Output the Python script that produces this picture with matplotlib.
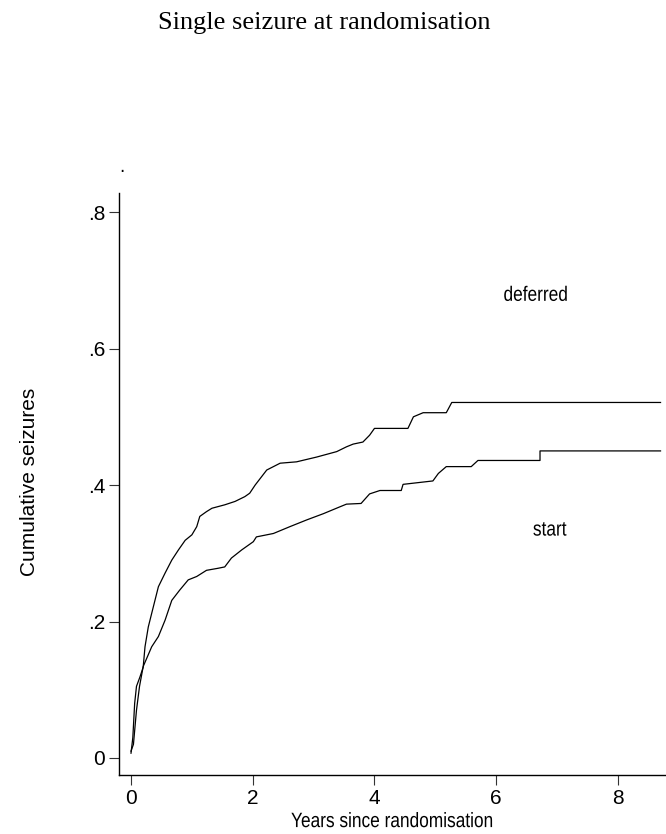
import matplotlib
matplotlib.use("Agg")
import matplotlib.pyplot as plt
from matplotlib.patheffects import AbstractPathEffect
from matplotlib.transforms import Affine2D

# Kaplan-Meier style cumulative curves
deferred_t = [0.0, 0.03, 0.06, 0.09, 0.148, 0.20, 0.23, 0.284, 0.34, 0.45, 0.56, 0.67,
              0.78, 0.89, 1.00, 1.08, 1.13, 1.24, 1.33, 1.54, 1.71, 1.87, 1.95, 2.04,
              2.23, 2.45, 2.72, 3.05, 3.38, 3.54, 3.65, 3.81, 3.92, 4.00, 4.55, 4.64,
              4.80, 5.18, 5.27, 8.70]
deferred_y = [0.007, 0.03, 0.08, 0.105, 0.119, 0.133, 0.163, 0.192, 0.212, 0.251, 0.271, 0.29,
              0.305, 0.319, 0.327, 0.339, 0.354, 0.361, 0.366, 0.371, 0.376, 0.383, 0.388, 0.40,
              0.422, 0.432, 0.434, 0.441, 0.449, 0.456, 0.46, 0.463, 0.473, 0.483, 0.483, 0.50,
              0.506, 0.506, 0.521, 0.521]

start_t = [0.0, 0.04, 0.09, 0.14, 0.20, 0.34, 0.45, 0.56, 0.67, 0.80, 0.94, 1.08,
           1.24, 1.43, 1.54, 1.65, 1.82, 2.01, 2.06, 2.34, 2.61, 2.89, 3.16, 3.43,
           3.54, 3.78, 3.92, 4.09, 4.44, 4.47, 4.96, 5.05, 5.18, 5.59, 5.70,
           6.72, 6.72, 8.70]
start_y = [0.01, 0.02, 0.07, 0.105, 0.134, 0.163, 0.178, 0.202, 0.231, 0.246, 0.261, 0.266,
           0.275, 0.278, 0.28, 0.293, 0.305, 0.317, 0.324, 0.329, 0.339, 0.349, 0.358, 0.368,
           0.372, 0.373, 0.387, 0.392, 0.392, 0.401, 0.406, 0.417, 0.427, 0.427, 0.436,
           0.436, 0.45, 0.45]

x_ticks = [0, 2, 4, 6, 8]
y_ticks = [0, 0.2, 0.4, 0.6, 0.8]
y_tick_labels = ["0", ".2", ".4", ".6", ".8"]


class Squeeze(AbstractPathEffect):
    # narrow the glyphs horizontally around the text centre (condensed look)
    def __init__(self, sx):
        super().__init__()
        self.sx = sx

    def draw_path(self, renderer, gc, tpath, affine, rgbFace=None):
        ext = tpath.get_extents()
        cx = (ext.x0 + ext.x1) / 2
        sq = Affine2D().translate(-cx, 0).scale(self.sx, 1).translate(cx, 0)
        renderer.draw_path(gc, tpath, sq + affine, rgbFace)


narrow = [Squeeze(0.83)]

fig = plt.figure(figsize=(6.66, 8.34), dpi=100)
ax = fig.add_axes([0.1787, 0.0707, 0.8213, 0.6979])

ax.plot(deferred_t, deferred_y, color="black", lw=0.9)
ax.plot(start_t, start_y, color="black", lw=0.9)

ax.set_xlim(-0.197, 8.79)
ax.set_ylim(-0.025, 0.828)

for s in ["top", "right"]:
    ax.spines[s].set_visible(False)
for s in ["left", "bottom"]:
    ax.spines[s].set_linewidth(1.0)

ax.set_xticks(x_ticks)
ax.set_xticklabels([str(v) for v in x_ticks], family="Liberation Sans", fontsize=15)
ax.set_yticks(y_ticks)
ax.set_yticklabels(y_tick_labels, family="Liberation Sans", fontsize=15)
ax.tick_params(direction="out", length=7, width=0.8, color="#333333", pad=3)

xl = ax.set_xlabel("Years since randomisation", family="Liberation Sans", fontsize=15, labelpad=3)
xl.set_path_effects(narrow)
fig.text(0.0445, 0.4227, "Cumulative seizures", rotation=90, ha="center", va="center",
         family="Liberation Sans", fontsize=15)

ax.text(6.65, 0.678, "deferred", ha="center", va="center", family="Liberation Sans",
        fontsize=15, path_effects=narrow)
ax.text(6.88, 0.334, "start", ha="center", va="center", family="Liberation Sans",
        fontsize=15, path_effects=narrow)
ax.text(-0.15, 0.866, ".", ha="center", va="center", fontsize=12, clip_on=False)

fig.text(0.487, 0.972, "Single seizure at randomisation", ha="center", va="center",
         family="Liberation Serif", fontsize=19)

fig.savefig("out.png", dpi=100)
